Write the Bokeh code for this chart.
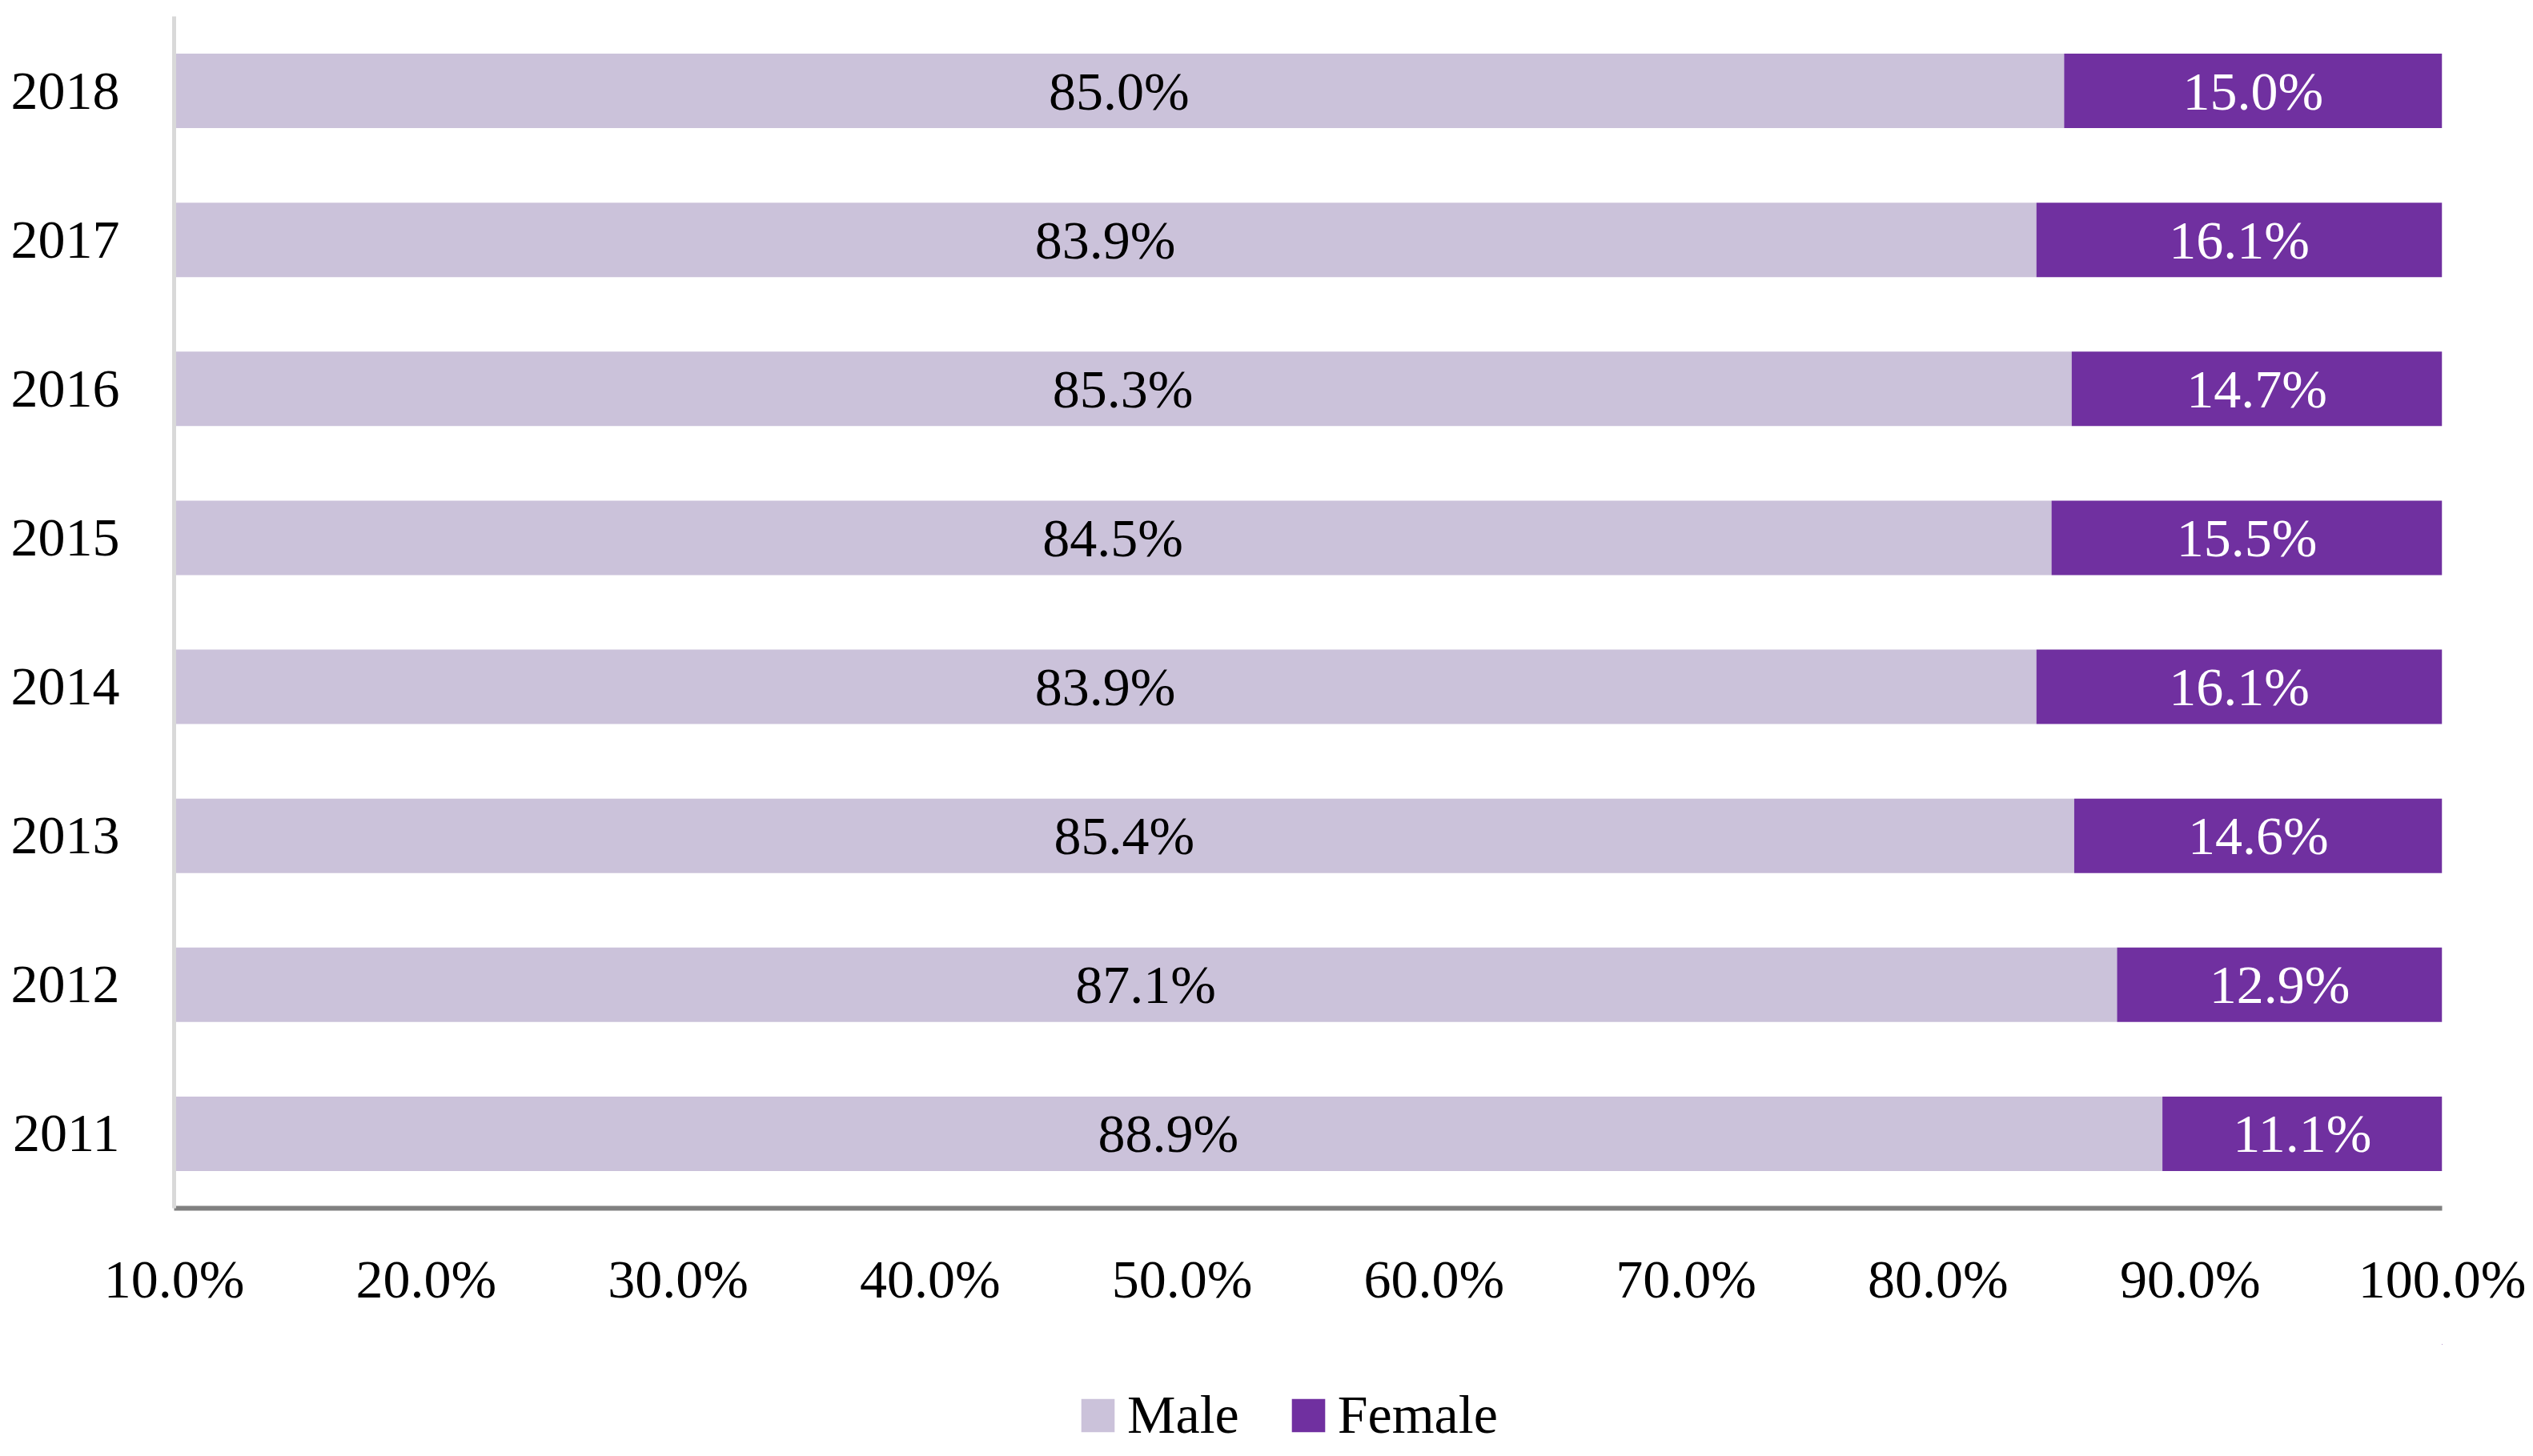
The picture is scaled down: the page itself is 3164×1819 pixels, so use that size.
from bokeh.plotting import figure
from bokeh.layouts import column
from bokeh.models import FactorRange, Range1d, FixedTicker, Legend, LegendItem, ColumnDataSource
from bokeh.core.properties import value
from bokeh.embed import file_html
from bokeh.resources import INLINE

# ---- data ----
years = ["2011", "2012", "2013", "2014", "2015", "2016", "2017", "2018"]
male = [88.9, 87.1, 85.4, 83.9, 84.5, 85.3, 83.9, 85.0]
female = [11.1, 12.9, 14.6, 16.1, 15.5, 14.7, 16.1, 15.0]
x_ticks = [10, 20, 30, 40, 50, 60, 70, 80, 90, 100]
x_tick_labels = ["10.0%", "20.0%", "30.0%", "40.0%", "50.0%",
                 "60.0%", "70.0%", "80.0%", "90.0%", "100.0%"]
series_names = ["Male", "Female"]

# ---- style ----
XMIN, XMAX = 10, 100
FONT = "Liberation Serif"
FS = "68px"
MALE_COLOR = "#CBC2DA"
FEMALE_COLOR = "#7030A0"
W, H = 3164, 1819
LEG_H = 140

total = [m + f for m, f in zip(male, female)]
src = ColumnDataSource(dict(
    years=years,
    base=[XMIN] * len(years),
    male=male,
    total=total,
    male_mid=[(XMIN + m) / 2 for m in male],
    female_mid=[m + f / 2 for m, f in zip(male, female)],
    male_lbl=[f"{m:.1f}%" for m in male],
    female_lbl=[f"{f:.1f}%" for f in female],
))

p = figure(width=W, height=H - LEG_H, title=None,
           y_range=FactorRange(factors=years), x_range=Range1d(XMIN, XMAX),
           output_backend="svg", toolbar_location=None,
           min_border_left=217, min_border_right=114,
           min_border_top=20, min_border_bottom=170)
p.outline_line_color = None
p.xgrid.visible = False
p.ygrid.visible = False
p.background_fill_color = "white"

r_m = p.hbar(y="years", left="base", right="male", height=0.5,
             fill_color=MALE_COLOR, line_color=None, source=src)
r_f = p.hbar(y="years", left="male", right="total", height=0.5,
             fill_color=FEMALE_COLOR, line_color=None, source=src)

p.text(x="male_mid", y="years", text="male_lbl", source=src,
       text_align="center", text_baseline="middle",
       text_font=value(FONT), text_font_size=FS, text_color="black")
p.text(x="female_mid", y="years", text="female_lbl", source=src,
       text_align="center", text_baseline="middle",
       text_font=value(FONT), text_font_size=FS, text_color="white")

# x axis
xa = p.xaxis[0]
xa.ticker = FixedTicker(ticks=x_ticks)
xa.major_label_overrides = {t: l for t, l in zip(x_ticks, x_tick_labels)}
xa.axis_line_color = "#808080"
xa.axis_line_width = 6
xa.major_tick_line_color = None
xa.minor_tick_line_color = None
xa.major_tick_out = 0
xa.major_tick_in = 0
xa.major_label_standoff = 50
xa.major_label_text_font = FONT
xa.major_label_text_font_size = FS
xa.major_label_text_color = "black"

# y axis
ya = p.yaxis[0]
ya.axis_line_color = "#D9D9D9"
ya.axis_line_width = 5
ya.major_tick_line_color = None
ya.minor_tick_line_color = None
ya.major_tick_out = 0
ya.major_tick_in = 0
ya.major_label_standoff = 68
ya.major_label_text_font = FONT
ya.major_label_text_font_size = FS
ya.major_label_text_color = "black"

# ---- legend strip (separate figure below the chart) ----
p2 = figure(width=W, height=LEG_H, title=None,
            x_range=Range1d(0, 1), y_range=Range1d(0, 1),
            x_axis_location=None, y_axis_location=None,
            output_backend="svg", toolbar_location=None,
            min_border_left=217, min_border_right=114,
            min_border_top=0, min_border_bottom=0)
p2.outline_line_color = None
p2.xgrid.visible = False
p2.ygrid.visible = False
# legend proxies: same data, but lying outside this strip's visible range
l_m = p2.hbar(y="male", left="base", right="male", height=0.5,
              fill_color=MALE_COLOR, line_color=None, source=src)
l_f = p2.hbar(y="total", left="male", right="total", height=0.5,
              fill_color=FEMALE_COLOR, line_color=None, source=src)

legend = Legend(items=[LegendItem(label=series_names[0], renderers=[l_m]),
                       LegendItem(label=series_names[1], renderers=[l_f])],
                orientation="horizontal", location=(1128, 12),
                glyph_width=52, glyph_height=52, label_standoff=11, spacing=60,
                label_text_font=FONT, label_text_font_size=FS,
                label_text_color="black",
                border_line_color=None, background_fill_alpha=0,
                margin=0, padding=0)
p2.add_layout(legend, "center")

layout = column(p, p2, spacing=0)
open("out.html", "w").write(file_html(layout, INLINE))
